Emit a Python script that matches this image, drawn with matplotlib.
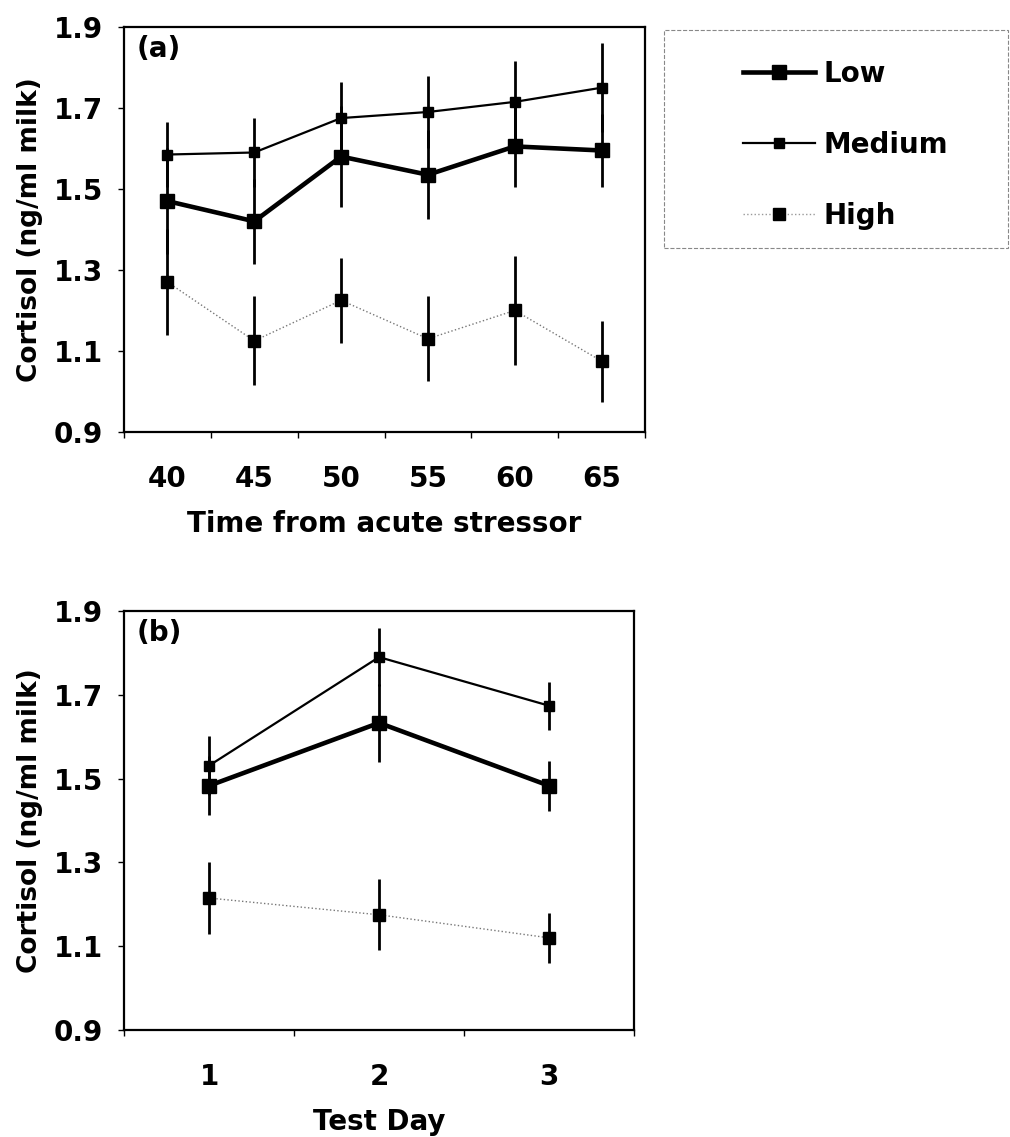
import numpy as np
import matplotlib
matplotlib.use('Agg')
import matplotlib.pyplot as plt
from matplotlib.lines import Line2D
from matplotlib.patches import Rectangle

plt.rcParams['font.family'] = ['DejaVu Sans']
plt.rcParams['font.weight'] = 'bold'

# panel (a): time from acute stressor
times = ['40', '45', '50', '55', '60', '65']
low_a = [1.47, 1.42, 1.58, 1.535, 1.605, 1.595]
low_a_err = [0.13, 0.105, 0.125, 0.11, 0.10, 0.09]
med_a = [1.585, 1.59, 1.675, 1.69, 1.715, 1.75]
med_a_err = [0.08, 0.085, 0.09, 0.09, 0.10, 0.11]
high_a = [1.27, 1.125, 1.225, 1.13, 1.20, 1.075]
high_a_err = [0.13, 0.11, 0.105, 0.105, 0.135, 0.10]

# panel (b): test day
days = ['1', '2', '3']
low_b = [1.483, 1.633, 1.483]
low_b_err = [0.07, 0.093, 0.06]
med_b = [1.531, 1.79, 1.674]
med_b_err = [0.07, 0.07, 0.057]
high_b = [1.215, 1.175, 1.12]
high_b_err = [0.085, 0.085, 0.06]

yticks = [0.9, 1.1, 1.3, 1.5, 1.7, 1.9]

fig = plt.figure(figsize=(10.10, 11.37), dpi=100)
ax1 = fig.add_axes([0.1228, 0.6201, 0.5158, 0.3562])
ax2 = fig.add_axes([0.1228, 0.0941, 0.5050, 0.3685])


def draw(ax, cats, low, lowe, med, mede, high, highe, tag, xlabel, ylab_x):
    x = np.arange(1, len(cats) + 1)
    ax.errorbar(x, high, yerr=highe, color='#777777', ecolor='black', elinewidth=2,
                capsize=0, linestyle=':', linewidth=1, marker='s', markersize=9,
                mfc='black', mec='black')
    ax.errorbar(x, med, yerr=mede, color='black', elinewidth=2, capsize=0,
                linewidth=1.6, marker='s', markersize=7)
    ax.errorbar(x, low, yerr=lowe, color='black', elinewidth=2, capsize=0,
                linewidth=3.3, marker='s', markersize=10)
    ax.set_xlim(0.5, len(cats) + 0.5)
    ax.set_ylim(0.9, 1.9)
    ax.set_yticks(yticks)
    ax.set_yticklabels([f'{v:.1f}' for v in yticks])
    ax.set_xticks(np.arange(0.5, len(cats) + 1, 1.0))
    ax.set_xticklabels([])
    ax.set_xticks(x, minor=True)
    ax.set_xticklabels(cats, minor=True)
    ax.tick_params(axis='x', which='major', direction='out', length=4, width=1)
    ax.tick_params(axis='x', which='minor', length=0, labelsize=20, pad=24)
    ax.tick_params(axis='y', direction='out', length=4, width=1, labelsize=20, pad=11)
    for s in ax.spines.values():
        s.set_linewidth(1.6)
    ax.text(0.025, 0.98, tag, transform=ax.transAxes, fontsize=20,
            fontweight='bold', va='top', ha='left')
    ax.set_ylabel('Cortisol (ng/ml milk)', fontsize=19, fontweight='bold')
    ax.yaxis.set_label_coords(ylab_x, 0.5)
    ax.set_xlabel(xlabel, fontsize=20, fontweight='bold', labelpad=12)


draw(ax1, times, low_a, low_a_err, med_a, med_a_err, high_a, high_a_err,
     '(a)', 'Time from acute stressor', -0.155)
draw(ax2, days, low_b, low_b_err, med_b, med_b_err, high_b, high_b_err,
     '(b)', 'Test Day', -0.158)

handles = [
    Line2D([], [], color='black', linewidth=3.3, marker='s', markersize=10),
    Line2D([], [], color='black', linewidth=1.6, marker='s', markersize=7),
    Line2D([], [], color='#999999', linewidth=1, linestyle=':', marker='s',
           markersize=9, markerfacecolor='black', markeredgecolor='black'),
]
leg = fig.legend(handles, ['Low', 'Medium', 'High'], loc='center left',
                 bbox_to_anchor=(0.7356, 0.8725), frameon=False,
                 prop={'size': 20, 'weight': 'bold'}, labelspacing=1.55,
                 handlelength=2.6, handletextpad=0.3, borderpad=0,
                 borderaxespad=0)

fig.patches.append(Rectangle((0.657, 0.782), 0.341, 0.192, transform=fig.transFigure,
                             fill=False, edgecolor='#888888', linestyle='--',
                             linewidth=0.8))

fig.savefig('out.png', dpi=100, facecolor='white')
